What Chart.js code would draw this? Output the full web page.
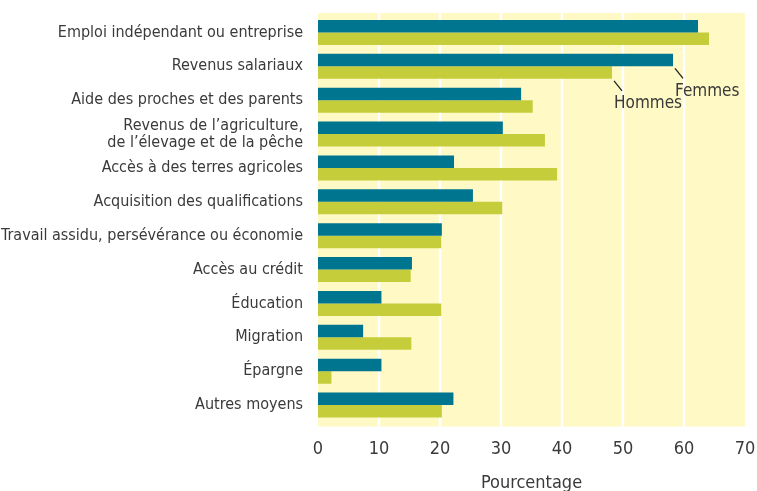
<!DOCTYPE html>
<html>
<head>
<meta charset="utf-8">
<script src="https://cdn.jsdelivr.net/npm/chart.js@4"></script>
<style>
  html, body { margin: 0; padding: 0; background: #fff; }
  #wrap { width: 757px; height: 491px; }
</style>
</head>
<body>
<div id="wrap"><canvas id="chart"></canvas></div>
<script>
const categories = [
  'Emploi indépendant ou entreprise',
  'Revenus salariaux',
  'Aide des proches et des parents',
  ['Revenus de l’agriculture,', 'de l’élevage et de la pêche'],
  'Accès à des terres agricoles',
  'Acquisition des qualifications',
  'Travail assidu, persévérance ou économie',
  'Accès au crédit',
  'Éducation',
  'Migration',
  'Épargne',
  'Autres moyens'
];
const femmes = [62.3, 58.2, 33.3, 30.3, 22.3, 25.4, 20.3, 15.4, 10.4, 7.4, 10.4, 22.2];
const hommes = [64.1, 48.2, 35.2, 37.2, 39.2, 30.2, 20.2, 15.2, 20.2, 15.3, 2.2, 20.3];
const xTicks = [0, 10, 20, 30, 40, 50, 60, 70];
const gridValues = [10, 20, 30, 40, 50, 60];

const fontFamily = '"DejaVu Sans Condensed", sans-serif';
const textColor = '#3a3a3a';

// yellow plot background with white vertical grid, a bit taller than the bar area
const bgPlugin = {
  id: 'bg',
  beforeDatasetsDraw(chart) {
    const { ctx, chartArea: a } = chart;
    const top = a.top - 2.5, bottom = a.bottom + 4.5;
    ctx.save();
    ctx.fillStyle = '#fff9c6';
    ctx.fillRect(a.left, top, a.right - a.left, bottom - top);
    ctx.strokeStyle = '#ffffff';
    ctx.lineWidth = 2.5;
    gridValues.forEach(v => {
      const x = chart.scales.x.getPixelForValue(v);
      ctx.beginPath();
      ctx.moveTo(x, top);
      ctx.lineTo(x, bottom);
      ctx.stroke();
    });
    ctx.restore();
  }
};

// "Femmes" / "Hommes" callouts on the second category
const calloutPlugin = {
  id: 'callout',
  afterDatasetsDraw(chart) {
    const { ctx } = chart;
    ctx.save();
    ctx.strokeStyle = '#222';
    ctx.lineWidth = 1.3;
    ctx.fillStyle = textColor;
    ctx.font = '17px ' + fontFamily;
    ctx.textBaseline = 'middle';
    [0, 1].forEach(di => {
      const bar = chart.getDatasetMeta(di).data[1];
      const x = bar.x, yb = bar.y + bar.height / 2;
      ctx.beginPath();
      ctx.moveTo(x + 2, yb + 2);
      ctx.lineTo(x + 10, yb + 12);
      ctx.stroke();
      ctx.fillText(chart.data.datasets[di].label, x + 2, yb + 25);
    });
    ctx.restore();
  }
};

new Chart(document.getElementById('chart'), {
  type: 'bar',
  data: {
    labels: categories,
    datasets: [
      { label: 'Femmes', data: femmes, backgroundColor: '#00758f' },
      { label: 'Hommes', data: hommes, backgroundColor: '#c5ce3a' }
    ]
  },
  options: {
    indexAxis: 'y',
    responsive: true,
    maintainAspectRatio: false,
    animation: false,
    layout: { padding: { top: 15.5, right: 12, bottom: 0, left: 0 } },
    datasets: { bar: { barPercentage: 1, categoryPercentage: 0.737 } },
    plugins: { legend: { display: false }, tooltip: { enabled: false } },
    scales: {
      x: {
        min: 0, max: 70,
        afterBuildTicks(scale) { scale.ticks = xTicks.map(v => ({ value: v })); },
        afterFit(scale) {
          scale.height = 69;
          scale.paddingLeft = 0;
          scale.paddingRight = 0;
        },
        grid: { display: false, drawTicks: false },
        border: { display: false },
        ticks: { color: textColor, font: { family: fontFamily, size: 18 }, padding: 17 },
        title: {
          display: true, text: 'Pourcentage', color: textColor,
          font: { family: fontFamily, size: 18 }, padding: { top: 0, bottom: -3 }
        }
      },
      y: {
        afterFit(scale) {
          scale.width = 318;
          scale.paddingTop = 0;
          scale.paddingBottom = 0;
        },
        grid: { display: false, drawTicks: false },
        border: { display: false },
        ticks: { color: textColor, font: { family: fontFamily, size: 16, lineHeight: 1.05 }, padding: 15, autoSkip: false }
      }
    }
  },
  plugins: [bgPlugin, calloutPlugin]
});
</script>
</body>
</html>
